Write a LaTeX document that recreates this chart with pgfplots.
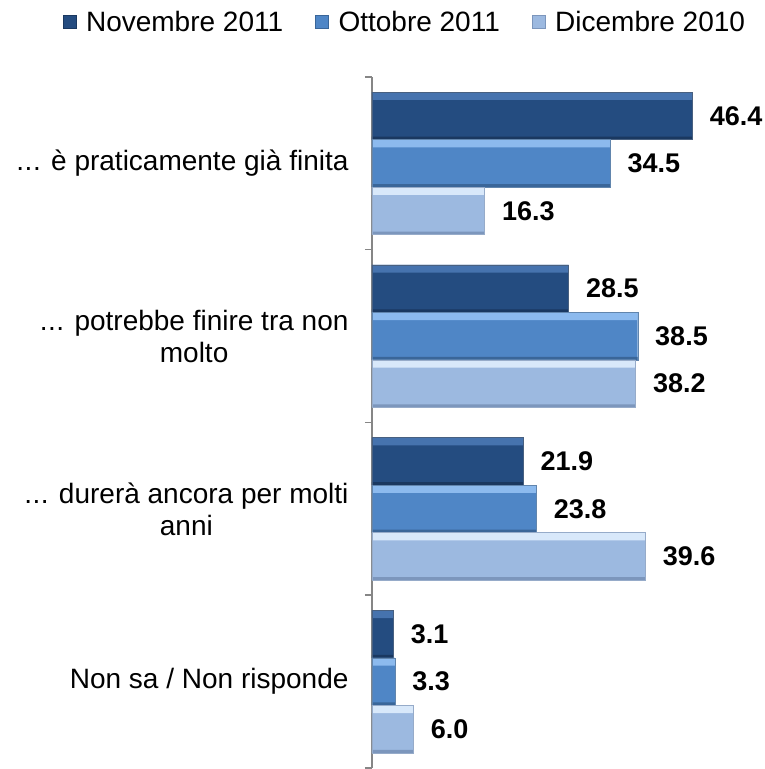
\documentclass[border=0pt]{standalone}
\usepackage{fontspec}
\setmainfont{Liberation Sans}
\usepackage{pgfplots}
\usepackage{pgfplotstable}
\pgfplotsset{compat=1.18}

\definecolor{novB}{HTML}{244C80}
\definecolor{novL}{HTML}{4673AE}
\definecolor{novD}{HTML}{1A3860}
\definecolor{ottB}{HTML}{4F86C6}
\definecolor{ottL}{HTML}{8CBAEE}
\definecolor{ottD}{HTML}{3A6699}
\definecolor{dicB}{HTML}{9CB9E0}
\definecolor{dicL}{HTML}{D8E8FA}
\definecolor{dicD}{HTML}{7C96BC}
\definecolor{axgray}{HTML}{868686}

% category 3 = top group
\pgfplotstableread{
x y
46.4 3
28.5 2
21.9 1
3.1 0
}\nov
\pgfplotstableread{
x y
34.5 3
38.5 2
23.8 1
3.3 0
}\ott
\pgfplotstableread{
x y
16.3 3
38.2 2
39.6 1
6.0 0
}\dic

\newcommand{\dd}{.\kern0.5pt.\kern0.5pt.}

\begin{document}
\begin{tikzpicture}
\useasboundingbox (-372pt,-1pt) rectangle (392pt,768pt);
\begin{axis}[
    scale only axis,
    width=392pt,
    height=691pt,
    xmin=0, xmax=56.8,
    ymin=-0.5, ymax=3.5,
    axis x line=none,
    axis y line*=left,
    y axis line style={draw=axgray, line width=1.5pt},
    ytick={0,1,2,3},
    yticklabels={Non sa / Non risponde,
                 {\dd{} durerà ancora per molti\\anni},
                 {\dd{} potrebbe finire tra non\\molto},
                 {\dd{} è praticamente già finita}},
    major tick length=0pt,
    minor ytick={-0.5,0.5,1.5,2.5,3.5},
    minor tick length=7pt,
    tick align=outside,
    minor tick style={draw=axgray, line width=1.5pt},
    yticklabel style={align=center, font=\fontsize{28}{32}\selectfont, xshift=-20pt},
    xbar,
    bar width=0.275,
    clip=false,
    nodes near coords style={font=\fontsize{27}{30}\selectfont\bfseries, anchor=west, xshift=14pt, text=black},
    legend columns=3,
    legend style={
        at={(axis description cs:0.084,1.0796)},
        anchor=center,
        draw=none, fill=none,
        font=\fontsize{28}{32}\selectfont,
        /tikz/every even column/.append style={column sep=30pt}
    },
    legend cell align=left,
    lbl/.style={nodes near coords={\pgfmathprintnumber[fixed,fixed zerofill,precision=1,assume math mode=true]{\pgfplotspointmeta}}},
]
% Novembre 2011
\addplot[fill=novB, draw=none, bar shift=0.275,
    legend image code/.code={\draw[fill=novB, draw=novD, line width=0.6pt] (0pt,-6.5pt) rectangle (13pt,6.5pt); \path (21pt,0pt);}]
    table {\nov};
\addlegendentry{Novembre 2011}
\addplot[fill=novL, draw=none, bar width=0.045, bar shift=0.39, forget plot] table {\nov};
\addplot[fill=novD, draw=none, bar width=0.018, bar shift=0.1465, forget plot] table {\nov};
\addplot[fill=none, draw=novD!80, line width=0.4pt, bar shift=0.275, forget plot, lbl] table {\nov};
% Ottobre 2011
\addplot[fill=ottB, draw=none, bar shift=0,
    legend image code/.code={\draw[fill=ottB, draw=ottD, line width=0.6pt] (0pt,-6.5pt) rectangle (13pt,6.5pt); \path (21pt,0pt);}]
    table {\ott};
\addlegendentry{Ottobre 2011}
\addplot[fill=ottL, draw=none, bar width=0.045, bar shift=0.115, forget plot] table {\ott};
\addplot[fill=ottD, draw=none, bar width=0.018, bar shift=-0.1285, forget plot] table {\ott};
\addplot[fill=none, draw=ottD!80, line width=0.4pt, bar shift=0, forget plot, lbl] table {\ott};
% Dicembre 2010
\addplot[fill=dicB, draw=none, bar shift=-0.275,
    legend image code/.code={\draw[fill=dicB, draw=dicD, line width=0.6pt] (0pt,-6.5pt) rectangle (13pt,6.5pt); \path (21pt,0pt);}]
    table {\dic};
\addlegendentry{Dicembre 2010}
\addplot[fill=dicL, draw=none, bar width=0.045, bar shift=-0.16, forget plot] table {\dic};
\addplot[fill=dicD, draw=none, bar width=0.018, bar shift=-0.4035, forget plot] table {\dic};
\addplot[fill=none, draw=dicD!80, line width=0.4pt, bar shift=-0.275, forget plot, lbl] table {\dic};
\end{axis}
\end{tikzpicture}
\end{document}
